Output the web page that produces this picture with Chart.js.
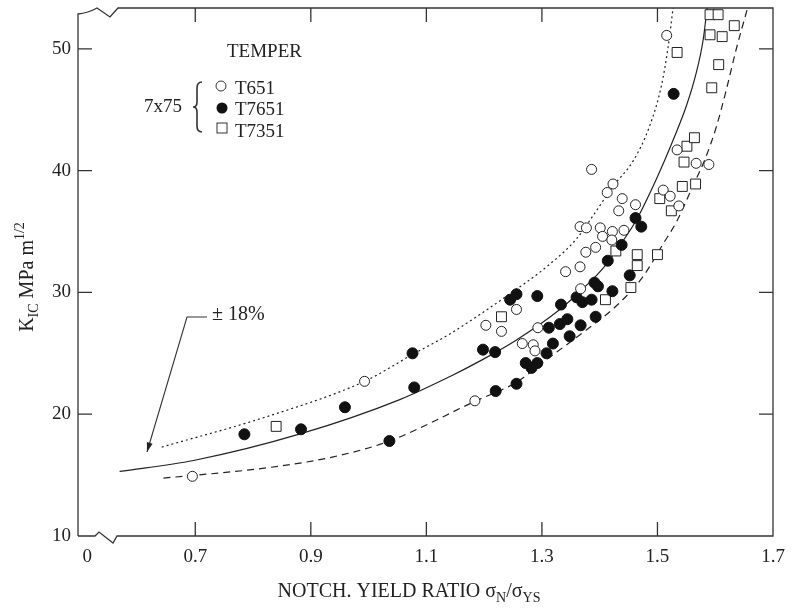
<!DOCTYPE html>
<html>
<head>
<meta charset="utf-8">
<script src="https://cdn.jsdelivr.net/npm/chart.js@4.4.1/dist/chart.umd.min.js"></script>
<style>
  html, body { margin: 0; padding: 0; background: #fff; }
</style>
</head>
<body>
<canvas id="chart" width="792" height="611"></canvas>
<script>
// axis ticks
const xTickValues = [0.513, 0.7, 0.9, 1.1, 1.3, 1.5, 1.7];
const xTickLabels = ['0', '0.7', '0.9', '1.1', '1.3', '1.5', '1.7'];
const yTickValues = [10, 20, 30, 40, 50];
const yTickLabels = ['10', '20', '30', '40', '50'];

// T651 (open circles)
const t651X = [0.695, 0.993, 1.184, 1.203, 1.230, 1.256, 1.266, 1.285, 1.288, 1.293, 1.341, 1.366, 1.367, 1.366, 1.377, 1.376, 1.393, 1.401, 1.405, 1.422, 1.421, 1.442, 1.386, 1.423, 1.413, 1.439, 1.462, 1.433, 1.516, 1.534, 1.567, 1.589, 1.510, 1.522, 1.537];
const t651Y = [14.9, 22.7, 21.1, 27.3, 26.8, 28.6, 25.8, 25.7, 25.2, 27.1, 31.7, 32.1, 30.3, 35.4, 35.3, 33.3, 33.7, 35.3, 34.6, 35.0, 34.3, 35.1, 40.1, 38.9, 38.2, 37.7, 37.2, 36.7, 51.1, 41.7, 40.6, 40.5, 38.4, 37.9, 37.1];

// T7651 (filled circles)
const t7651X = [0.785, 0.883, 0.959, 1.036, 1.079, 1.076, 1.198, 1.219, 1.245, 1.256, 1.292, 1.220, 1.256, 1.272, 1.282, 1.292, 1.308, 1.319, 1.312, 1.331, 1.344, 1.348, 1.367, 1.393, 1.333, 1.360, 1.370, 1.386, 1.391, 1.397, 1.422, 1.414, 1.438, 1.452, 1.462, 1.472, 1.528];
const t7651Y = [18.35, 18.76, 20.57, 17.8, 22.2, 25.0, 25.3, 25.1, 29.4, 29.85, 29.7, 21.9, 22.5, 24.2, 23.8, 24.2, 25.0, 25.8, 27.1, 27.4, 27.8, 26.4, 27.3, 28.0, 29.0, 29.6, 29.2, 29.4, 30.8, 30.5, 30.1, 32.6, 33.9, 31.4, 36.1, 35.4, 46.3];

// T7351 (open squares)
const t7351X = [0.840, 1.230, 1.410, 1.428, 1.465, 1.465, 1.454, 1.500, 1.524, 1.504, 1.543, 1.566, 1.546, 1.551, 1.564, 1.594, 1.606, 1.534, 1.591, 1.612, 1.633, 1.591, 1.605];
const t7351Y = [19.0, 28.0, 29.4, 33.4, 33.1, 32.2, 30.4, 33.1, 36.7, 37.7, 38.7, 38.9, 40.7, 42.0, 42.7, 46.8, 48.7, 49.7, 51.15, 51.0, 51.9, 52.8, 52.8];

// mean curve and +/-18% band
const meanX = [0.569, 0.697, 0.883, 1.054, 1.141, 1.198, 1.256, 1.331, 1.371, 1.406, 1.440, 1.463, 1.498, 1.527, 1.550, 1.567, 1.579, 1.586];
const meanY = [15.3, 16.2, 18.4, 21.2, 23.1, 24.5, 26.1, 28.6, 30.3, 32.0, 34.2, 35.9, 39.3, 42.5, 45.3, 48.0, 50.7, 53.35];
const upperX = [0.642, 0.824, 0.993, 1.076, 1.141, 1.193, 1.236, 1.308, 1.360, 1.390, 1.423, 1.458, 1.486, 1.507, 1.518, 1.527];
const upperY = [17.3, 19.8, 22.7, 24.9, 26.6, 28.2, 29.6, 32.1, 34.4, 36.4, 38.7, 40.8, 43.6, 47.0, 50.0, 53.35];
const lowerX = [0.645, 0.824, 0.939, 1.036, 1.186, 1.255, 1.314, 1.371, 1.429, 1.475, 1.510, 1.533, 1.561, 1.582, 1.602, 1.619, 1.636, 1.656];
const lowerY = [14.75, 15.6, 16.5, 17.8, 21.1, 22.6, 24.7, 26.7, 28.9, 31.3, 34.0, 35.8, 38.7, 40.9, 43.6, 46.6, 49.9, 53.35];

const pts = (xs, ys) => xs.map((x, i) => ({ x: x, y: ys[i] }));

const INK = '#222';
const SERIF = '"Liberation Serif", "DejaVu Serif", serif';

function curve(xs, ys, dash) {
  return {
    type: 'line', data: pts(xs, ys), showLine: true, order: 2,
    borderColor: INK, borderWidth: 1.2, borderDash: dash,
    pointRadius: 0, fill: false, cubicInterpolationMode: 'monotone'
  };
}

// text with sub/superscripts, parts = [text, size, dy]
function richText(ctx, parts, x, y, align) {
  let w = 0;
  parts.forEach(p => { ctx.font = p[1] + 'px ' + SERIF; w += ctx.measureText(p[0]).width; });
  let cx = align === 'center' ? x - w / 2 : x;
  ctx.textAlign = 'left';
  ctx.textBaseline = 'alphabetic';
  parts.forEach(p => {
    ctx.font = p[1] + 'px ' + SERIF;
    ctx.fillText(p[0], cx, y + p[2]);
    cx += ctx.measureText(p[0]).width;
  });
}

const decor = {
  id: 'decor',
  afterDraw(chart) {
    const { ctx, chartArea: a, scales: { x, y } } = chart;
    ctx.save();
    ctx.strokeStyle = '#333';
    ctx.fillStyle = INK;
    ctx.lineWidth = 1.3;

    // frame with the two axis breaks
    ctx.beginPath();
    ctx.moveTo(a.left, a.bottom);
    ctx.lineTo(a.left, a.top + 6);
    ctx.quadraticCurveTo(a.left + 10, a.top + 5, a.left + 19, a.top);
    ctx.lineTo(a.left + 32, a.top + 9);
    ctx.lineTo(a.left + 40, a.top);
    ctx.lineTo(a.right, a.top);
    ctx.lineTo(a.right, a.bottom);
    ctx.lineTo(a.left + 39, a.bottom);
    ctx.lineTo(a.left + 35, a.bottom + 7);
    ctx.lineTo(a.left + 21, a.bottom - 4);
    ctx.lineTo(a.left + 17, a.bottom);
    ctx.lineTo(a.left, a.bottom);

    // inward ticks
    const tl = 14;
    xTickValues.slice(1, -1).forEach(v => {
      const px = x.getPixelForValue(v);
      ctx.moveTo(px, a.bottom); ctx.lineTo(px, a.bottom - tl);
      ctx.moveTo(px, a.top); ctx.lineTo(px, a.top + tl);
    });
    yTickValues.slice(1).forEach(v => {
      const py = y.getPixelForValue(v);
      ctx.moveTo(a.left, py); ctx.lineTo(a.left + tl, py);
      ctx.moveTo(a.right, py); ctx.lineTo(a.right - tl, py);
    });
    ctx.stroke();

    // axis titles
    richText(ctx, [['NOTCH. YIELD RATIO σ', 20, 0], ['N', 14, 5], ['/σ', 20, 0], ['YS', 14, 5]], 409, 597, 'center');
    ctx.save();
    ctx.translate(33, 277);
    ctx.rotate(-Math.PI / 2);
    richText(ctx, [['K', 20, 0], ['IC', 14, 5], [' MPa m', 20, 0], ['1/2', 14, -9]], 0, 0, 'center');
    ctx.restore();

    // legend block
    const lx = a.left, ly = a.top;
    ctx.font = '19px ' + SERIF;
    ctx.textAlign = 'left';
    ctx.fillText('TEMPER', lx + 149, ly + 49);
    ctx.fillText('T651', lx + 157, ly + 86);
    ctx.fillText('T7651', lx + 157, ly + 107);
    ctx.fillText('T7351', lx + 157, ly + 129);
    ctx.fillText('7x75', lx + 66, ly + 104);
    ctx.lineWidth = 1;
    ctx.fillStyle = '#fff';
    ctx.beginPath(); ctx.arc(lx + 143, ly + 78, 5, 0, Math.PI * 2); ctx.fill(); ctx.stroke();
    ctx.fillStyle = '#111';
    ctx.beginPath(); ctx.arc(lx + 144, ly + 100, 5.5, 0, Math.PI * 2); ctx.fill();
    ctx.strokeRect(lx + 139, ly + 115, 10, 10);
    // brace
    const bx = lx + 115, bt = ly + 74, bb = ly + 124, bm = (bt + bb) / 2;
    ctx.lineWidth = 1.6;
    ctx.beginPath();
    ctx.moveTo(bx + 9, bt);
    ctx.quadraticCurveTo(bx + 4, bt, bx + 4, bt + 6);
    ctx.lineTo(bx + 4, bm - 5);
    ctx.quadraticCurveTo(bx + 4, bm, bx, bm);
    ctx.quadraticCurveTo(bx + 4, bm, bx + 4, bm + 5);
    ctx.lineTo(bx + 4, bb - 6);
    ctx.quadraticCurveTo(bx + 4, bb, bx + 9, bb);
    ctx.stroke();

    // +/-18% note with arrow
    ctx.fillStyle = INK;
    ctx.font = '20px ' + SERIF;
    ctx.fillText('± 18%', lx + 134, ly + 312);
    ctx.lineWidth = 1.1;
    const cx0 = lx + 109, cy0 = ly + 309, tx = lx + 69, ty = ly + 444;
    ctx.beginPath();
    ctx.moveTo(lx + 129, cy0); ctx.lineTo(cx0, cy0); ctx.lineTo(tx, ty);
    ctx.stroke();
    const ang = Math.atan2(ty - cy0, tx - cx0);
    ctx.beginPath();
    ctx.moveTo(tx, ty);
    ctx.lineTo(tx - 10 * Math.cos(ang - 0.3), ty - 10 * Math.sin(ang - 0.3));
    ctx.lineTo(tx - 10 * Math.cos(ang + 0.3), ty - 10 * Math.sin(ang + 0.3));
    ctx.closePath();
    ctx.fill();
    ctx.restore();
  }
};

new Chart(document.getElementById('chart'), {
  type: 'scatter',
  data: {
    datasets: [
      { label: 'T651', data: pts(t651X, t651Y), order: 0, pointStyle: 'circle', pointRadius: 5,
        backgroundColor: '#fff', borderColor: INK, borderWidth: 1 },
      { label: 'T7651', data: pts(t7651X, t7651Y), order: 0, pointStyle: 'circle', pointRadius: 5.5,
        backgroundColor: '#111', borderColor: '#111', borderWidth: 1 },
      { label: 'T7351', data: pts(t7351X, t7351Y), order: 0, pointStyle: 'rect', pointRadius: 7,
        backgroundColor: '#fff', borderColor: INK, borderWidth: 1 },
      curve(meanX, meanY, []),
      curve(upperX, upperY, [2, 3]),
      curve(lowerX, lowerY, [7, 5])
    ]
  },
  options: {
    responsive: false,
    animation: false,
    layout: { padding: { top: 8, right: 19, left: 0, bottom: 0 } },
    plugins: { legend: { display: false }, tooltip: { enabled: false } },
    scales: {
      x: {
        type: 'linear', min: 0.497, max: 1.7,
        grid: { display: false, drawTicks: false }, border: { display: false },
        afterBuildTicks: s => { s.ticks = xTickValues.map(v => ({ value: v })); },
        afterFit: s => { s.height = 75; s.paddingLeft = 0; s.paddingRight = 0; },
        ticks: { font: { family: SERIF, size: 19 }, color: INK, padding: 10, maxRotation: 0, autoSkip: false,
          callback: (v, i) => xTickLabels[i] }
      },
      y: {
        type: 'linear', min: 10, max: 53.35,
        grid: { display: false, drawTicks: false }, border: { display: false },
        afterBuildTicks: s => { s.ticks = yTickValues.map(v => ({ value: v })); },
        afterFit: s => { s.width = 78; s.paddingTop = 0; s.paddingBottom = 0; },
        ticks: { font: { family: SERIF, size: 19 }, color: INK, padding: 7, autoSkip: false,
          callback: (v, i) => yTickLabels[i] }
      }
    }
  },
  plugins: [decor]
});
</script>
</body>
</html>
